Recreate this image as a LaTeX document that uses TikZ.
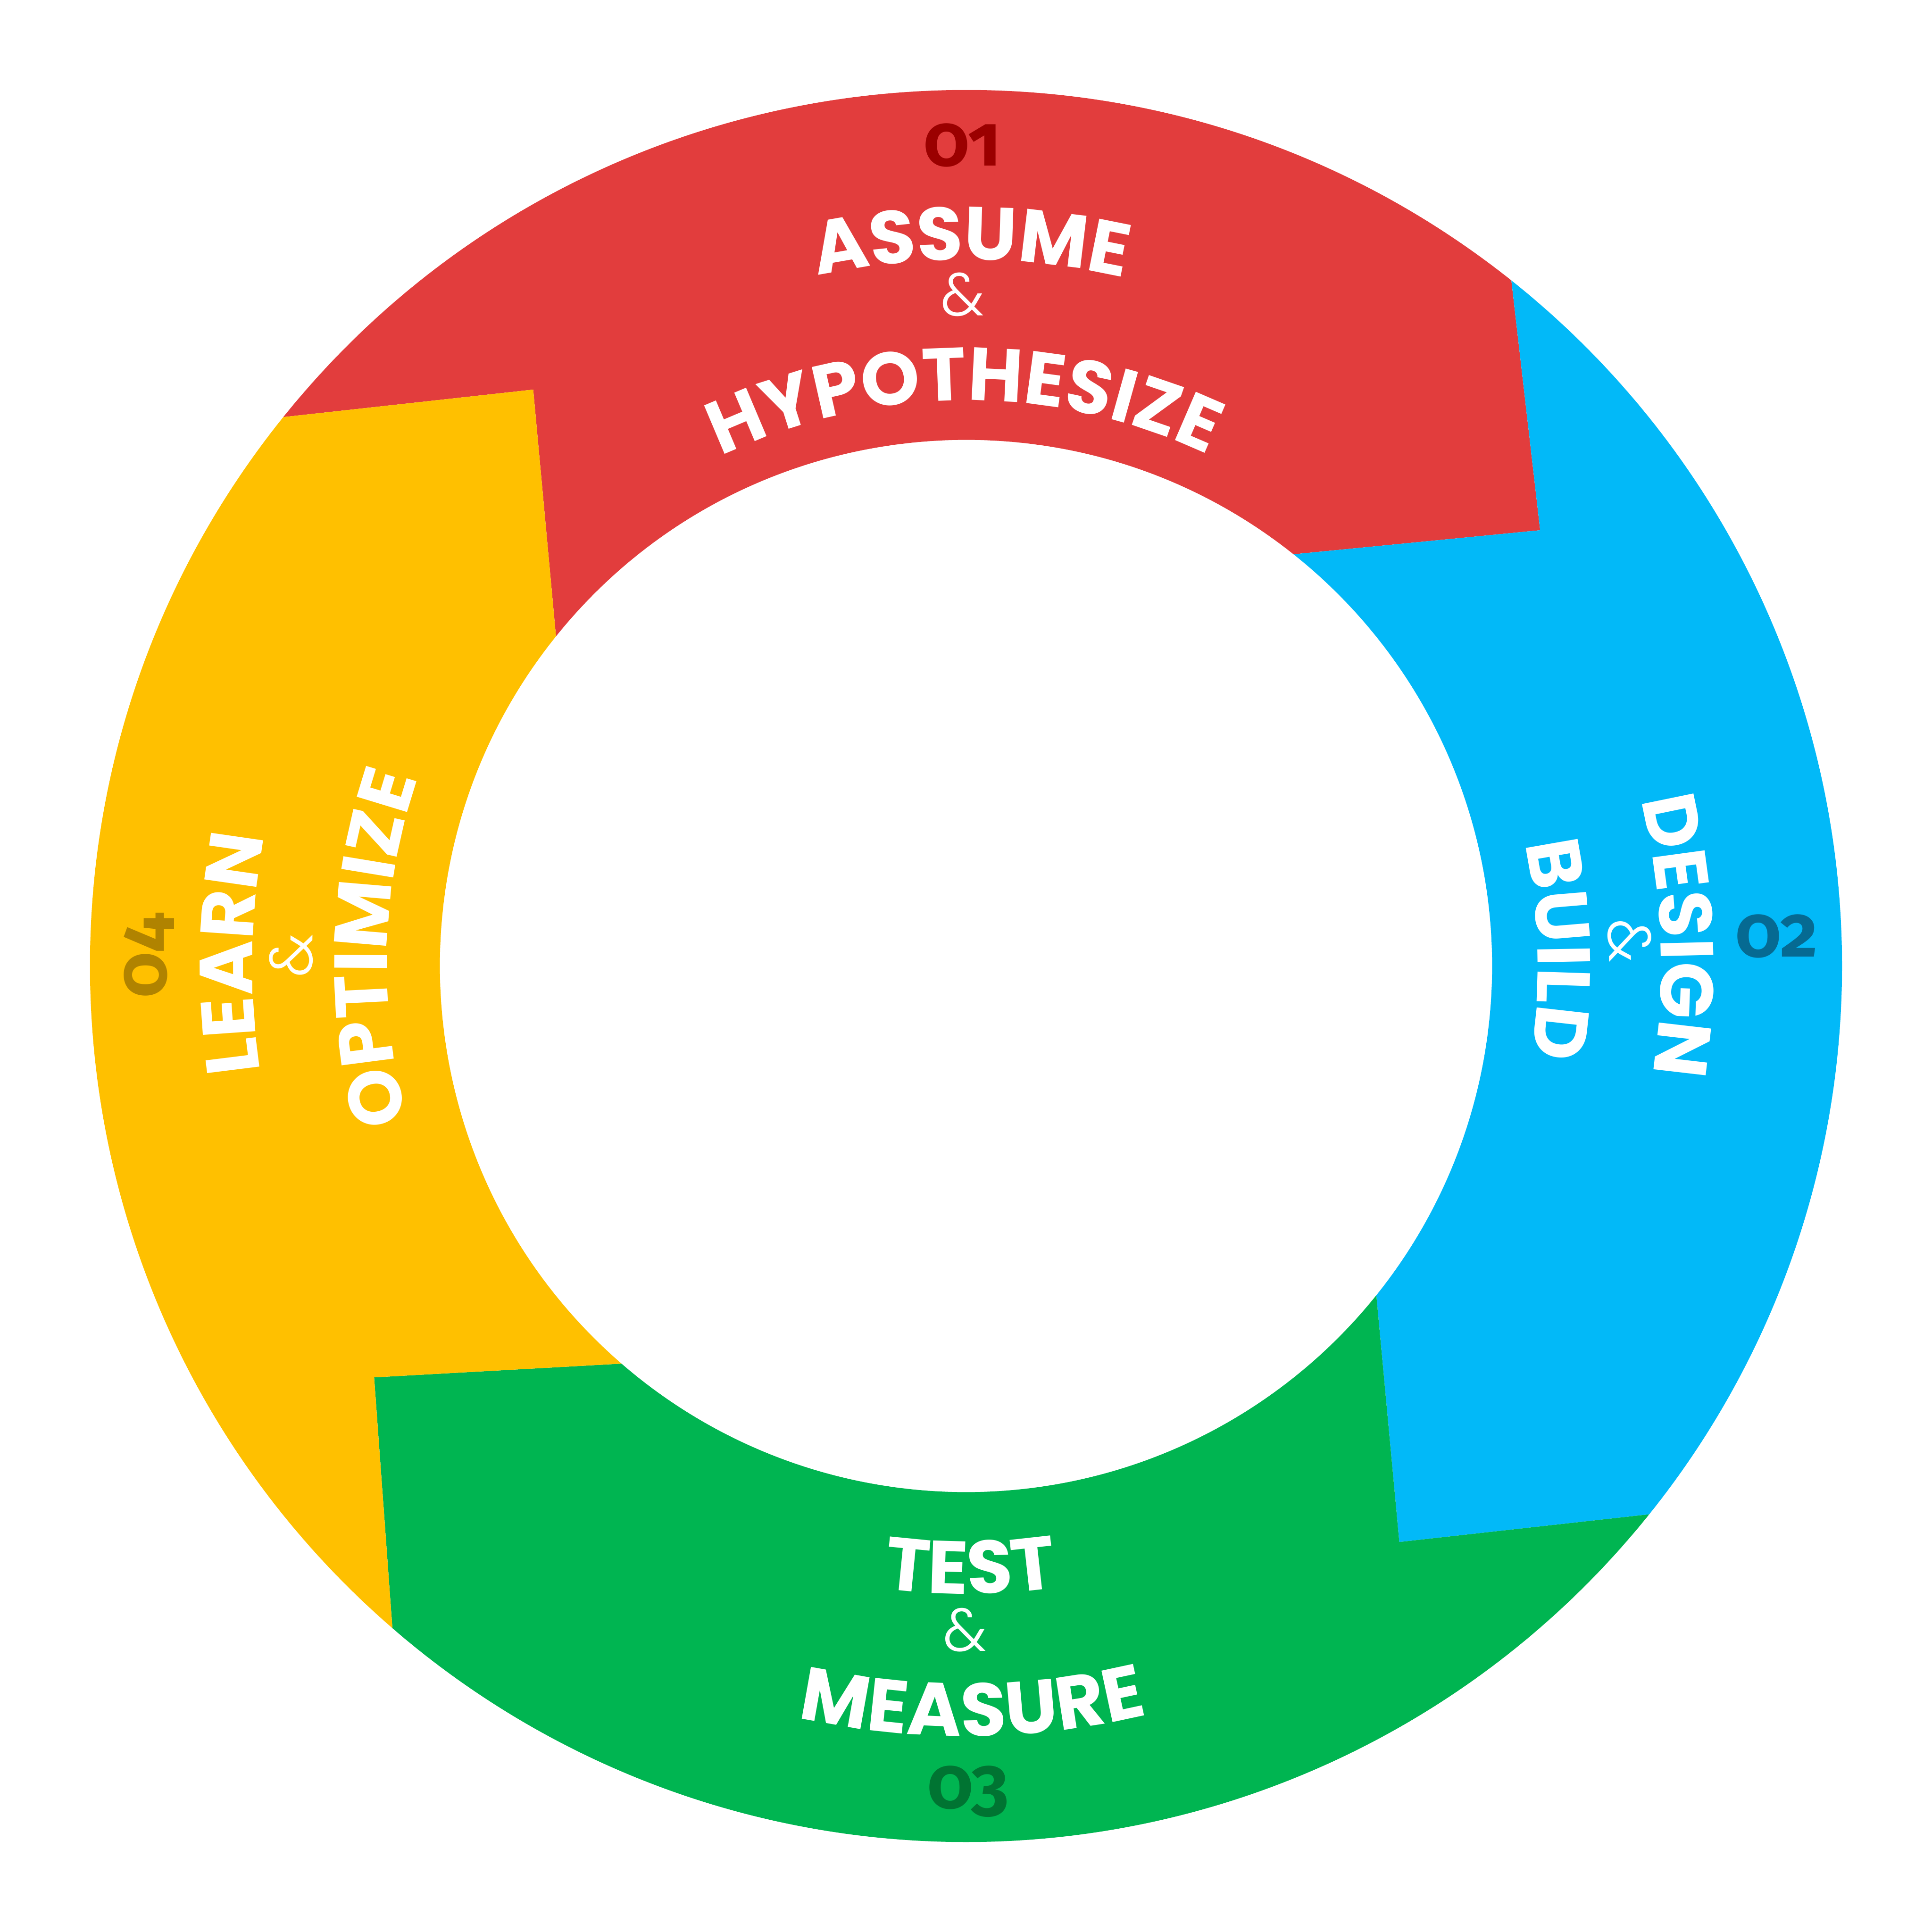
\documentclass[tikz,border=0pt]{standalone}
\usepackage{fontspec}
\usetikzlibrary{decorations.text}
\newfontfamily\wordfont{Poppins}
\newfontfamily\ampfont{Poppins Light}
\newfontfamily\numfont{Fira Sans}[Numbers=OldStyle]
\newcommand\wfont{\wordfont\bfseries\fontsize{17.3pt}{20pt}\selectfont}
\definecolor{segred}{RGB}{226,61,61}
\definecolor{segblue}{RGB}{2,185,248}
\definecolor{seggreen}{RGB}{0,181,81}
\definecolor{segyellow}{RGB}{255,192,0}
\definecolor{numred}{RGB}{155,0,0}
\definecolor{numblue}{RGB}{6,106,146}
\definecolor{numgreen}{RGB}{0,116,50}
\definecolor{numyellow}{RGB}{176,131,0}
% segment: colour, start angle (larger), end angle (smaller)
\newcommand\ringseg[3]{%
  \fill[#1] (#2:7.11) arc[start angle=#2, end angle=#3, radius=7.11]
    -- ({#3-14.3}:5.85) -- (#3:4.27)
    arc[start angle=#3, end angle=#2, radius=4.27]
    -- ({#2-14.3}:5.85) -- cycle;}
% word on arc: radius, start angle, end angle, text
\newcommand\arcword[4]{%
  \path[decorate, decoration={text along path, text color=white,
      text={|\wfont|#4}, text align=center}]
    (#2:#1) arc[start angle=#2, end angle=#3, radius=#1];}
\tikzset{
  amp/.style={inner sep=0pt, text=white, font=\ampfont\fontsize{14pt}{16pt}\selectfont},
  num/.style={inner sep=0pt, anchor=base, font=\numfont\bfseries\fontsize{16.8pt}{19pt}\selectfont}
}
\begin{document}
\begin{tikzpicture}
\useasboundingbox (-7.84,-7.84) rectangle (7.84,7.84);
% ring segments
\ringseg{segred}{141.2}{51.5}
\ringseg{segblue}{51.5}{-38.75}
\ringseg{seggreen}{-38.75}{-130.9}
\ringseg{segyellow}{229.1}{141.2}
% red
\node[num, text=numred] (n01) at (-0.03,6.496) {01};
\arcword{5.73}{149.6}{29.6}{ASSUME}
\node[amp, rotate=0.3] (amp1) at (90.3:5.45) {\&};
\arcword{4.59}{150.2}{30.2}{HYPOTHESIZE}
% blue
\node[num, text=numblue] (n02) at (6.58,0.075) {02};
\arcword{5.64}{62.45}{-57.55}{DESIGN}
\node[amp, rotate=-87.8] (amp2) at (2.2:5.39) {\&};
\arcword{4.64}{61.6}{-58.4}{BUILD}
% green
\node[num, text=numgreen] (n03) at (0.017,-6.835) {03};
\arcword{5.095}{210.4}{330.4}{TEST}
\node[amp] (amp3) at (269.9:5.39) {\&};
\arcword{6.25}{210.5}{330.5}{MEASURE}
% yellow
\node[num, text=numyellow, rotate=90] (n04) at (-6.49,0.087) {04};
\arcword{5.79}{239}{119}{LEARN}
\node[amp, rotate=89.1] (amp4) at (179.1:5.478) {\&};
\arcword{4.70}{238.3}{118.3}{OPTIMIZE}
\end{tikzpicture}
\end{document}
